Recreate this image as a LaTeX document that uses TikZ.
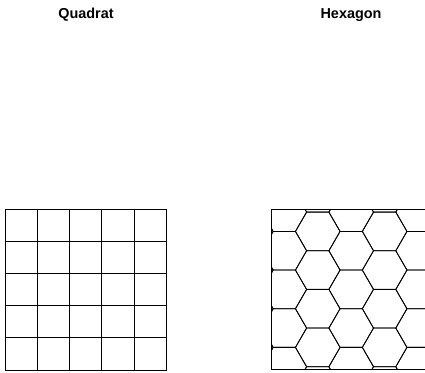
\documentclass[tikz,border=0pt]{standalone}
\usepackage{fontspec}
\setmainfont{Liberation Sans}
\begin{document}
\begin{tikzpicture}[x=1pt,y=-1pt,
  gridline/.style={draw=black, line width=0.8pt},
  title/.style={font=\bfseries\fontsize{14.4}{17}\selectfont, inner sep=0pt, anchor=base}]
\useasboundingbox (0,0) rectangle (425,372);
\node[title] (tq) at (86,18.3) {Quadrat};
\node[title] (th) at (351,18.3) {Hexagon};
% Quadrat grid
\draw[gridline] (5.5,209.3) rectangle (166,370);
\foreach \i in {1,...,4} {
  \draw[gridline] (5.5+\i*32.1,209.3) -- ++(0,160.7);
  \draw[gridline] (5.5,209.3+\i*32.14) -- ++(160.5,0);
}
% Hexagon grid
\begin{scope}
  \clip (271,209.3) rectangle (431.3,369.3);
  \foreach \k in {-3,...,3} {
    \foreach \j in {-3,...,3} {
      \pgfmathsetmacro\cx{351.2+\k*33.45}
      \pgfmathsetmacro\cy{289.4+\j*38.65+mod(abs(\k),2)*19.33}
      \draw[gridline, shift={(\cx,\cy)}] (-22.3,0) -- (-11.15,-19.31) -- (11.15,-19.31) -- (22.3,0) -- (11.15,19.31) -- (-11.15,19.31) -- cycle;
    }
  }
\end{scope}
\draw[gridline] (271,209.3) rectangle (431.3,369.3);
\end{tikzpicture}
\end{document}
